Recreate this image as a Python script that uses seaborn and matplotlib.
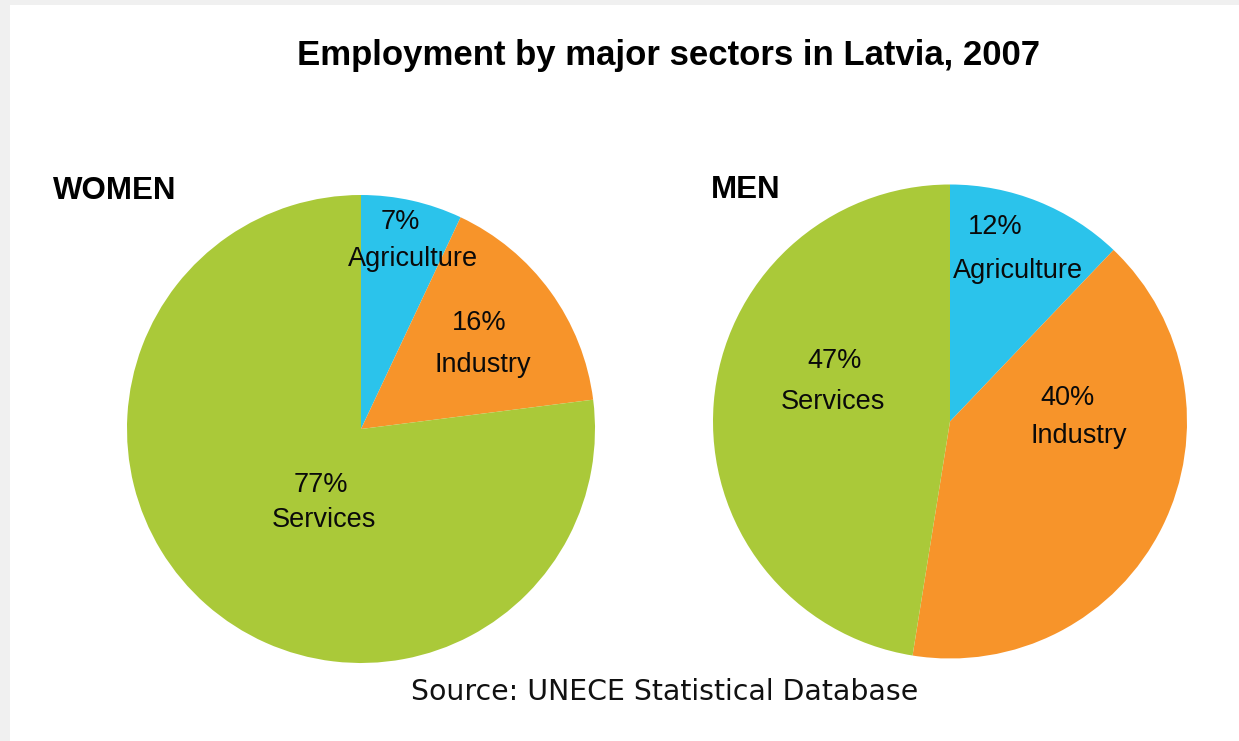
import matplotlib
matplotlib.use("Agg")
import matplotlib.pyplot as plt
from matplotlib.patches import Rectangle
import seaborn as sns

# Employment shares by sector, Latvia 2007 (percent)
sectors = ["Agriculture", "Industry", "Services"]
women_share = [7, 16, 77]
men_share = [12, 40, 47]
sector_colors = ["#2BC3EB", "#F7942A", "#AAC939"]

title_text = "Employment by major sectors in Latvia, 2007"
source_text = "Source: UNECE Statistical Database"

sns.set_theme(style="white")
plt.rcParams["font.family"] = ["Liberation Sans", "DejaVu Sans"]

W, H = 1239, 741
fig = plt.figure(figsize=(W / 100, H / 100), dpi=100, facecolor="#F0F0F0")

# white canvas inside a thin grey frame
fig.add_artist(Rectangle((10 / W, 0), 1 - 10 / W, 1 - 5 / H,
                         transform=fig.transFigure, facecolor="white",
                         edgecolor="none", zorder=0))

palette = sns.color_palette(sector_colors)


def pie_axes(cx, cy, r):
    """Square axes in pixel terms centred on (cx, cy) with radius r."""
    return fig.add_axes([(cx - r) / W, (H - cy - r) / H, 2 * r / W, 2 * r / H])


# label anchor points (pie-radius units) for percent line and name line
women_pos = [((0.167, 0.855), (0.222, 0.697)),
             ((0.506, 0.423), (0.521, 0.245)),
             ((-0.173, -0.268), (-0.158, -0.419))]
men_pos = [((0.190, 0.791), (0.287, 0.605)),
           ((0.496, 0.070), (0.544, -0.091)),
           ((-0.487, 0.226), (-0.494, 0.053))]


def draw_pie(ax, values, positions):
    ax.pie(values, colors=palette, startangle=90, counterclock=False,
           radius=1, wedgeprops=dict(linewidth=0))
    ax.set_xlim(-1, 1)
    ax.set_ylim(-1, 1)
    ax.set_aspect("equal")
    ax.axis("off")
    for val, name, (p_pct, p_name) in zip(values, sectors, positions):
        ax.text(*p_pct, f"{val}%", ha="center", va="baseline",
                fontsize=19.5, color="#0A0A0A")
        ax.text(*p_name, name, ha="center", va="baseline",
                fontsize=19.5, color="#0A0A0A")


ax_w = pie_axes(361, 429, 234)
draw_pie(ax_w, women_share, women_pos)

ax_m = pie_axes(950, 421.5, 237)
draw_pie(ax_m, men_share, men_pos)

fig.text(668.5 / W, 1 - 65 / H, title_text, ha="center", va="baseline",
         fontsize=25, fontweight="bold", color="black")
fig.text(53 / W, 1 - 199 / H, "WOMEN", ha="left", va="baseline",
         fontsize=22.5, fontweight="bold", color="black")
fig.text(711 / W, 1 - 198.5 / H, "MEN", ha="left", va="baseline",
         fontsize=22.5, fontweight="bold", color="black")
fig.text(665 / W, 1 - 700.5 / H, source_text, ha="center", va="baseline",
         fontsize=20.4, family=["DejaVu Sans"], color="#111111")

fig.savefig("out.png", dpi=100, facecolor=fig.get_facecolor())
